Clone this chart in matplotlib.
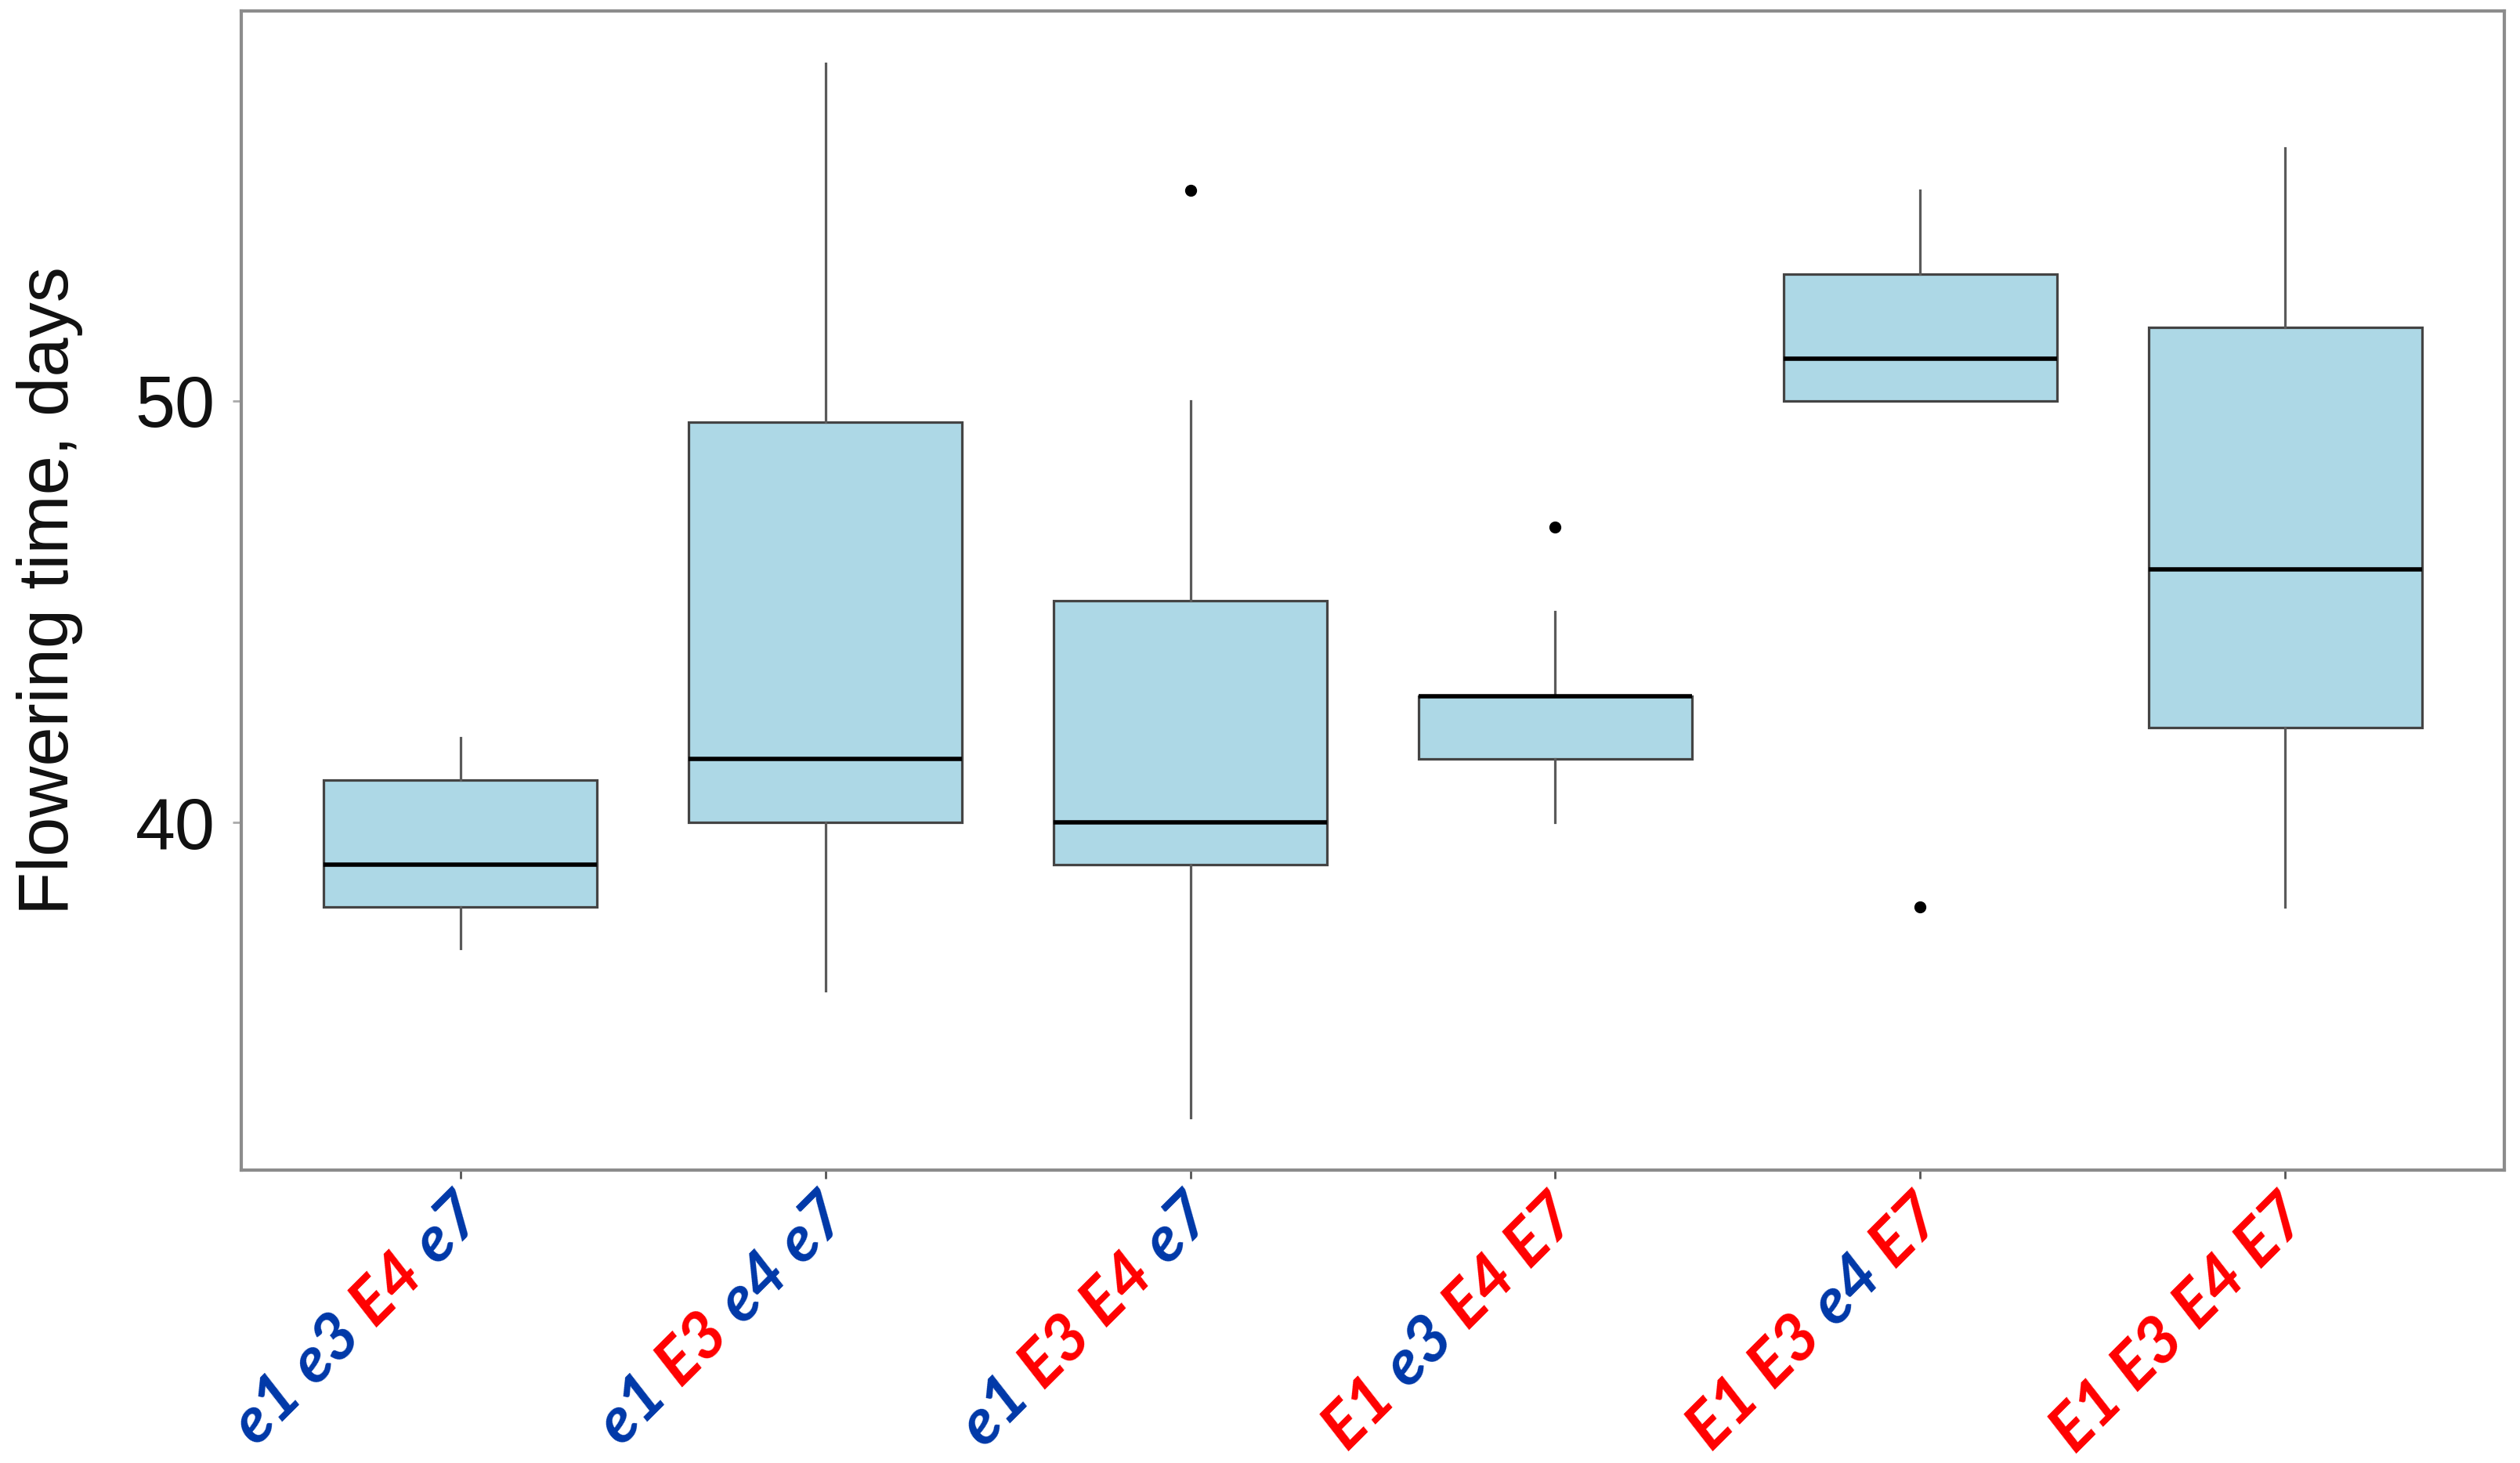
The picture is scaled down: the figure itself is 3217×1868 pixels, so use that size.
import matplotlib
matplotlib.use("Agg")
import matplotlib.pyplot as plt
import numpy as np

# genotype labels, one word per gene
genotypes = [
    ["e1", "e3", "E4", "e7"],
    ["e1", "E3", "e4", "e7"],
    ["e1", "E3", "E4", "e7"],
    ["E1", "e3", "E4", "E7"],
    ["E1", "E3", "e4", "E7"],
    ["E1", "E3", "E4", "E7"],
]

# box statistics (days)
whisker_low = [37, 36, 33, 40, 50, 38]
q1 = [38, 40, 39, 41.5, 50, 42.25]
median = [39, 41.5, 40, 43, 51, 46]
q3 = [41, 49.5, 45.25, 43, 53, 51.75]
whisker_high = [42, 58, 50, 45, 55, 56]
outliers = [[], [], [55], [47], [38], []]

BLUE = "#0038A8"
RED = "#FF0000"

fig = plt.figure(figsize=(32.17, 18.68), dpi=100)
ax = fig.add_axes([308 / 3217, 1 - 1494 / 1868, (3197 - 308) / 3217, (1494 - 14) / 1868])

stats = []
for i in range(len(genotypes)):
    stats.append(dict(whislo=whisker_low[i], q1=q1[i], med=median[i], q3=q3[i],
                      whishi=whisker_high[i], fliers=outliers[i]))

pos = np.arange(1, len(genotypes) + 1)
ax.bxp(stats, positions=pos, widths=0.75, patch_artist=True, showcaps=False,
       boxprops=dict(facecolor="#ADD8E6", edgecolor="#444444", linewidth=2.3),
       medianprops=dict(color="black", linewidth=4),
       whiskerprops=dict(color="#5a5a5a", linewidth=2.3),
       flierprops=dict(marker="o", markerfacecolor="black", markeredgecolor="black",
                       markersize=10))

ax.set_xlim(0.4, 6.6)
ax.set_ylim(31.75, 59.25)
ax.set_yticks([40, 50])
ax.set_yticklabels(["40", "50"], fontsize=66, family="Liberation Sans", color="#111111")
ax.tick_params(axis="y", length=8, width=2, color="#aaaaaa", pad=16)
ax.tick_params(axis="x", length=8, width=2, color="#555555")
ax.set_xticks(pos)
ax.set_xticklabels([])
ax.set_ylabel("Flowering time, days", fontsize=65, family="Liberation Sans",
              color="#111111", labelpad=48)
for s in ax.spines.values():
    s.set_color("#8c8c8c")
    s.set_linewidth(3)

# coloured multi-part x labels, rotated 45 deg, right end at the tick
fig.canvas.draw()
renderer = fig.canvas.get_renderer()
font = dict(family="Lato", weight="bold", style="italic", fontsize=60)


def width_pt(s):
    t = fig.text(0, 0, s, **font)
    w = t.get_window_extent(renderer).width * 72 / fig.dpi
    t.remove()
    return w


c = np.cos(np.radians(45))
for x, words in zip(pos, genotypes):
    total = width_pt(" ".join(words))
    for j, w in enumerate(words):
        start = width_pt(" ".join(words[:j + 1])) - width_pt(w)
        d = start - total
        ax.annotate(w, xy=(x, 0), xycoords=ax.get_xaxis_transform(),
                    xytext=(d * c - 8, d * c - 12), textcoords="offset points",
                    rotation=45, rotation_mode="anchor", ha="left", va="top",
                    color=RED if w[0] == "E" else BLUE, annotation_clip=False, **font)

fig.savefig("out.png", dpi=100)
